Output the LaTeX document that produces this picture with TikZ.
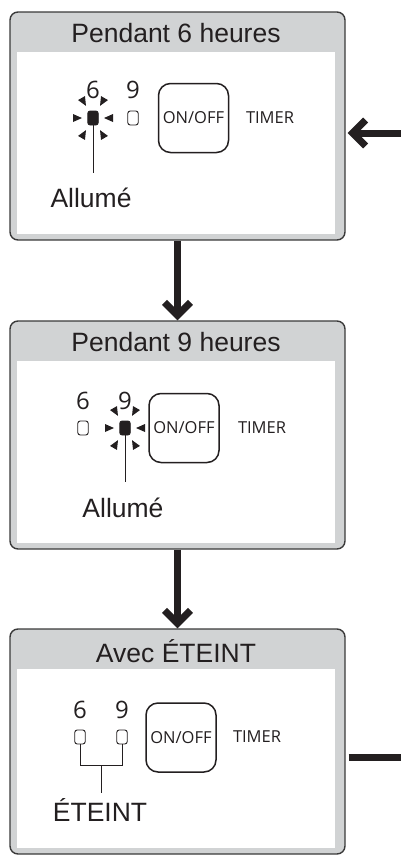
\documentclass[tikz,border=0pt]{standalone}
\usepackage{fontspec}
\setmainfont{Liberation Sans}
\newfontfamily\panelfont{Open Sans}
\usetikzlibrary{
  calc,
  arrows.meta,
  positioning
}
\definecolor{panelgray}{HTML}{D1D3D4}
\definecolor{inkblack}{HTML}{231F20}
\definecolor{rimgray}{HTML}{3A3A3A}

% petits rayons autour d'un voyant allume
\newcommand{\ledrays}[1]{%
  \foreach \ang/\rad in {0/11,60/14,120/14,180/11,240/14,300/14}
    \fill[inkblack,shift={(#1)},rotate=\ang] (\rad,0) -- (\rad+9,4) -- (\rad+9,-4) -- cycle;}

\begin{document}
\begin{tikzpicture}[
            x=1pt, y=-1pt,
            panel/.style={rectangle, rounded corners=8pt, draw=rimgray, line width=1.4pt, fill=panelgray, minimum width=335pt, minimum height=228pt, inner sep=0pt},
            title/.style={font=\fontsize{26.5}{30}\selectfont, text=inkblack, inner sep=0pt},
            state/.style={font=\fontsize{26.5}{30}\selectfont, text=inkblack, inner sep=0pt},
            digit/.style={font=\panelfont\fontsize{24}{27}\selectfont, text=inkblack, inner sep=0pt},
            ledoff/.style={rectangle, rounded corners=2.5pt, draw=inkblack, line width=0.9pt, minimum width=10.5pt, minimum height=14pt, inner sep=0pt},
            ledon/.style={ledoff, fill=inkblack},
            button/.style={rectangle, rounded corners=12pt, draw=inkblack, line width=1.5pt, minimum width=70pt, minimum height=69pt, inner sep=0pt, font=\panelfont\fontsize{16.5}{18}\selectfont, text=inkblack},
            timer/.style={font=\panelfont\fontsize{16.5}{18}\selectfont, text=inkblack, inner sep=0pt},
            lead/.style={line width=1pt, draw=inkblack},
            flow/.style={line width=7pt, draw=inkblack, -{Straight Barb[length=13pt,width=26pt]}}
        ]
        \useasboundingbox (0,0) rectangle (401,855);

        % Panneaux
        \node (panel_six) [panel] at (177.5,126) {};
        \node (panel_nine) [panel] at (177.5,435) {};
        \node (panel_off) [panel, minimum height=225pt] at (177.5,741.5) {};

        % Ecrans blancs
        \foreach \p in {panel_six,panel_nine,panel_off}
          \fill[white] ($(\p.south west)+(7.5,-7)$) rectangle ($(\p.north east)+(-10.5,41)$);

        % Titres
        \node (title_six) [title] at (176,33) {Pendant 6 heures};
        \node (title_nine) [title] at (176,342) {Pendant 9 heures};
        \node (title_off) [title] at (176,651) {Avec ÉTEINT};

        % Panneau 1 : 6 heures
        \node (lit_six) [ledon] at (93,118) {};
        \node (off_six) [ledoff] at (133,118) {};
        \ledrays{lit_six}
        \node (num_six_a) [digit] at (93,90) {6};
        \node (num_nine_a) [digit] at (133,90) {9};
        \node (button_six) [button] at (193.5,118) {ON/OFF};
        \node (timer_six) [timer] at (270,118) {TIMER};
        \node (allume_six) [state] at (91,198) {Allumé};
        \draw [lead] (lit_six.south) -- ++(0,48);

        % Panneau 2 : 9 heures
        \node (off_nine) [ledoff] at (83,428) {};
        \node (lit_nine) [ledon] at (125,428) {};
        \ledrays{lit_nine}
        \node (num_six_b) [digit] at (83,401) {6};
        \node (num_nine_b) [digit] at (125,401) {9};
        \node (button_nine) [button] at (184,428) {ON/OFF};
        \node (timer_nine) [timer] at (262,428) {TIMER};
        \node (allume_nine) [state] at (123,508) {Allumé};
        \draw [lead] (lit_nine.south) -- ++(0,47);

        % Panneau 3 : eteint
        \node (off_six_c) [ledoff] at (80,737) {};
        \node (off_nine_c) [ledoff] at (122,737) {};
        \node (num_six_c) [digit] at (80,710) {6};
        \node (num_nine_c) [digit] at (122,710) {9};
        \node (button_off) [button] at (181,737.5) {ON/OFF};
        \node (timer_off) [timer] at (257,737) {TIMER};
        \node (eteint_off) [state] at (100,810) {ÉTEINT};
        \draw [lead] (off_six_c.south) -- ++(0,21) -| (off_nine_c.south);
        \draw [lead] ($(off_six_c.south)!0.5!(off_nine_c.south)+(0,21)$) -- ++(0,28);

        % Fleches
        \draw [flow] (panel_six) -- (panel_nine);
        \draw [flow] (panel_nine) -- (panel_off);

        % Retour (coupe au bord droit)
        \coordinate (loop_in) at (401,133);
        \coordinate (loop_out) at (401,757);
        \draw [flow, shorten >=2pt] (loop_in) -- (loop_in -| panel_six.east);
        \draw [line width=7pt, draw=inkblack, shorten <=3pt] (panel_off.east |- loop_out) -- (loop_out);

    \end{tikzpicture}
\end{document}
